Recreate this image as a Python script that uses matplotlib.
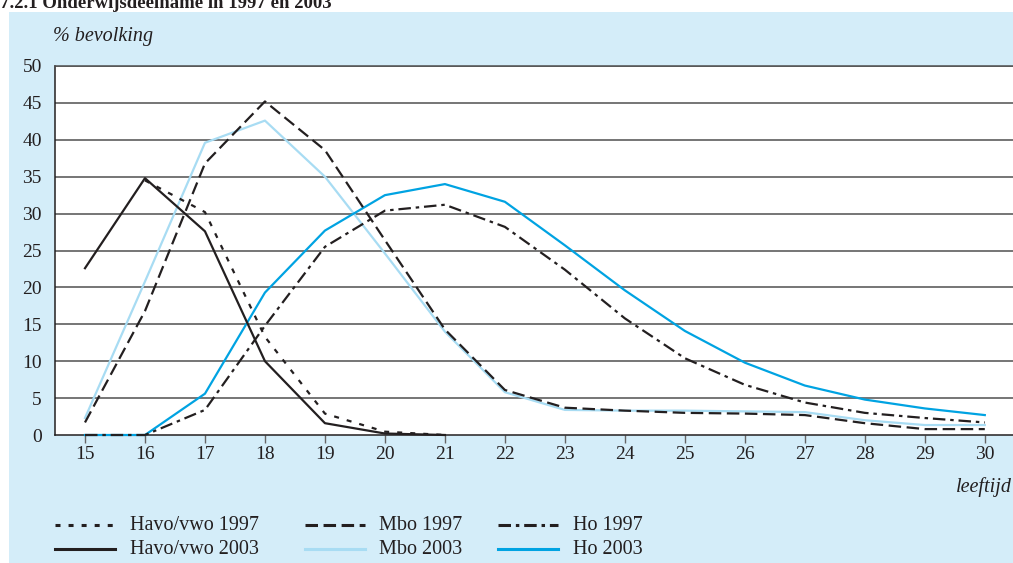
import matplotlib
matplotlib.use("Agg")
import matplotlib.pyplot as plt
from matplotlib.lines import Line2D
from matplotlib.patches import Rectangle

ages = list(range(15, 31))

havo_1997 = [None, 34.5, 30.2, 13.3, 2.9, 0.45, 0.0] + [None] * 9
havo_2003 = [22.6, 34.8, 27.6, 10.0, 1.6, 0.2, 0.0] + [None] * 9
mbo_1997 = [1.7, 16.8, 36.8, 45.2, 38.6, 26.4, 14.3, 6.1, 3.7, 3.3, 3.0, 2.9, 2.7, 1.6, 0.8, 0.8]
mbo_2003 = [2.3, 20.8, 39.6, 42.6, 35.0, 24.6, 14.0, 5.8, 3.4, 3.3, 3.3, 3.2, 3.1, 2.0, 1.35, 1.35]
ho_1997 = [0.0, 0.0, 3.4, 14.8, 25.5, 30.4, 31.2, 28.2, 22.4, 15.8, 10.4, 6.8, 4.4, 3.0, 2.3, 1.7]
ho_2003 = [0.0, 0.0, 5.6, 19.3, 27.7, 32.5, 34.0, 31.6, 25.7, 19.6, 14.1, 9.8, 6.7, 4.8, 3.6, 2.7]

series_labels = ["Havo/vwo 1997", "Havo/vwo 2003", "Mbo 1997", "Mbo 2003", "Ho 1997", "Ho 2003"]

x_ticks = list(range(15, 31))
y_ticks = list(range(0, 51, 5))

W, H = 1013, 563
plt.rcParams['font.family'] = ['Liberation Serif', 'DejaVu Serif']
plt.rcParams['lines.scale_dashes'] = False

fig = plt.figure(figsize=(W / 100, H / 100), dpi=100)
fig.patch.set_facecolor('white')

def fx(px):
    return px / W

def fy(py):
    return 1 - py / H

BG = '#d4edf9'
BLACK = '#231f20'
LIGHT = '#a8dcf3'
BLUE = '#00a3e2'
GRID = '#505050'

fig.add_artist(Rectangle((fx(9), 0), 1 - fx(9), fy(12), transform=fig.transFigure,
                         facecolor=BG, edgecolor='none', zorder=0))

fig.text(fx(0), fy(8.5), "7.2.1 Onderwijsdeelname in 1997 en 2003", fontsize=13.5,
         fontweight='bold', color=BLACK, ha='left', va='baseline')

ax = fig.add_axes([fx(55), fy(435), 1 - fx(55), fy(66) - fy(435)])
ax.set_facecolor('white')
ax.set_xlim(14.5, 30.47)
ax.set_ylim(0, 50)

styles = {
    "Havo/vwo 1997": dict(color=BLACK, linestyle=(0, (3.6, 5.8))),
    "Havo/vwo 2003": dict(color=BLACK, linestyle='-'),
    "Mbo 1997": dict(color=BLACK, linestyle=(0, (9, 4))),
    "Mbo 2003": dict(color=LIGHT, linestyle='-'),
    "Ho 1997": dict(color=BLACK, linestyle=(0, (9, 3.5, 2.5, 3.5))),
    "Ho 2003": dict(color=BLUE, linestyle='-'),
}
data = {
    "Havo/vwo 1997": havo_1997,
    "Havo/vwo 2003": havo_2003,
    "Mbo 1997": mbo_1997,
    "Mbo 2003": mbo_2003,
    "Ho 1997": ho_1997,
    "Ho 2003": ho_2003,
}
order = ["Mbo 2003", "Ho 2003", "Ho 1997", "Mbo 1997", "Havo/vwo 1997", "Havo/vwo 2003"]
for name in order:
    vals = data[name]
    xs = [a for a, v in zip(ages, vals) if v is not None]
    ys = [v for v in vals if v is not None]
    ax.plot(xs, ys, lw=1.6, clip_on=False, zorder=3, **styles[name])

for yv in y_ticks[1:]:
    ax.axhline(yv, color=GRID, lw=1.1, zorder=1)

ax.spines['right'].set_visible(False)
ax.spines['top'].set_color(GRID)
ax.spines['left'].set_color(BLACK)
ax.spines['bottom'].set_color(BLACK)
for s in ['top', 'left', 'bottom']:
    ax.spines[s].set_linewidth(1.1)

ax.set_xticks(x_ticks)
ax.set_yticks(y_ticks)
ax.tick_params(axis='x', direction='out', length=6, width=1, color='#666666',
               labelsize=14, labelcolor=BLACK, pad=2)
ax.tick_params(axis='y', length=0, labelsize=14, labelcolor=BLACK, pad=9.5)

fig.text(fx(53), fy(37), "% bevolking", fontsize=14.5, style='italic', color=BLACK,
         ha='left', va='center')
fig.text(fx(1012), fy(487), "leeftijd", fontsize=14.5, style='italic', color=BLACK,
         ha='right', va='center')

# legend
cols = [(55, 115, 130), (305, 365, 379), (498, 558, 573)]
rows = [525, 549]
for i, name in enumerate(series_labels):
    c, r = divmod(i, 2)
    x0, x1, xt = cols[c]
    y = rows[r]
    fig.add_artist(Line2D([fx(x0), fx(x1)], [fy(y), fy(y)], transform=fig.transFigure,
                          lw=2.2, **styles[name]))
    fig.text(fx(xt), fy(y), name, fontsize=14.5, color=BLACK, ha='left', va='center')

fig.savefig("out.png", dpi=100)
